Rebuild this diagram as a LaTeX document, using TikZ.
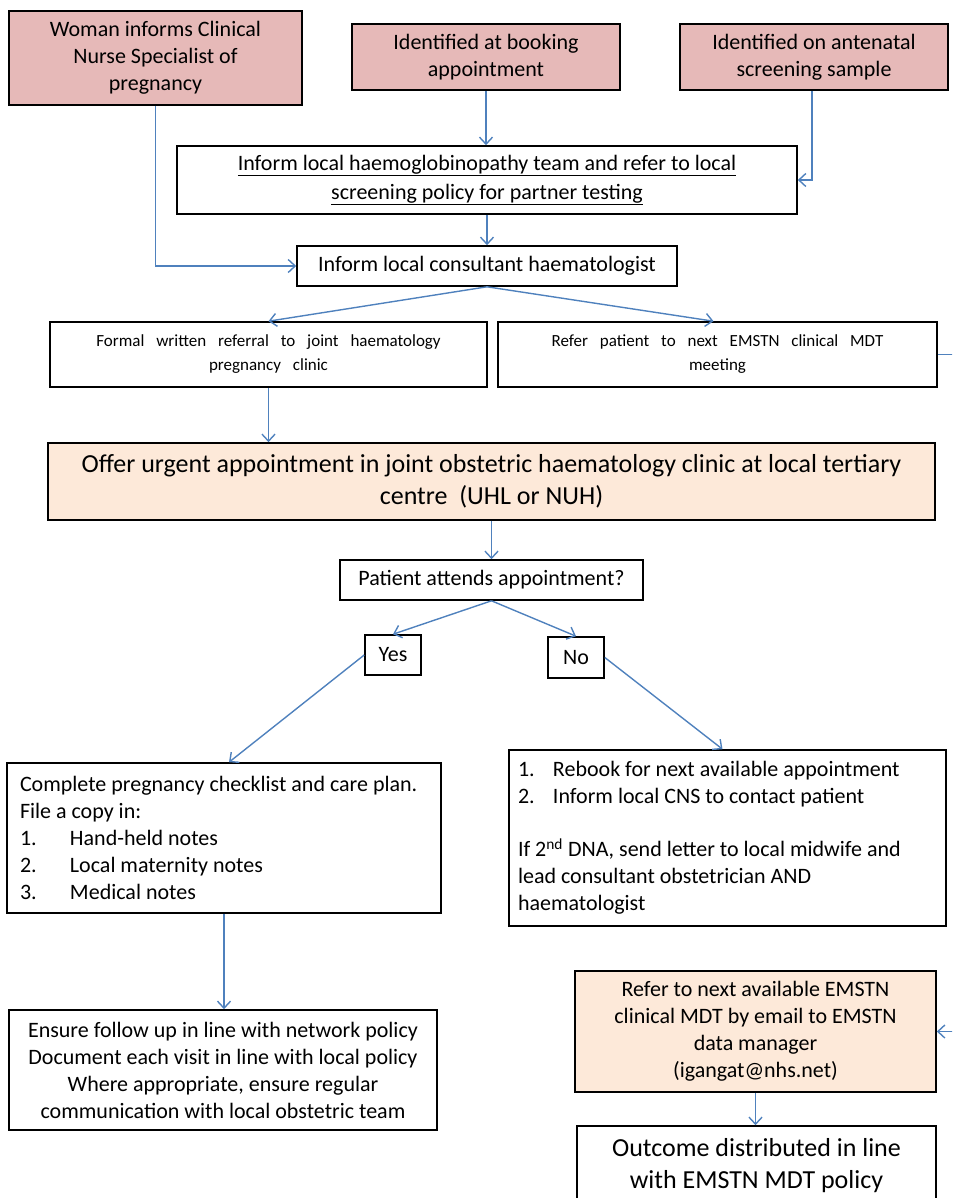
\documentclass[tikz,border=0pt]{standalone}
\usepackage{fontspec}
\setmainfont{Carlito}
\usetikzlibrary{arrows.meta}
\definecolor{pinkfill}{HTML}{E6B9B8}
\definecolor{peachfill}{HTML}{FDE9D9}
\definecolor{arrowblue}{HTML}{4F81BD}
\newcommand{\normsz}{\fontsize{22}{27}\selectfont}
\newcommand{\smallsz}{\fontsize{17}{24}\selectfont\spaceskip=0.7em plus 0.1em\relax}
\newcommand{\bigsz}{\fontsize{26}{32}\selectfont}
\newcommand{\numitem}[2]{\makebox[#1][l]{#2}}
\newcommand{\plainspaces}{\spaceskip=0pt\relax\xspaceskip=0pt\relax}
\begin{document}
\begin{tikzpicture}[x=1pt,y=-1pt,
  box/.style={draw=black, line width=1.6pt, inner sep=0pt, align=center, font=\normsz, text=black},
  conn/.style={draw=arrowblue, line width=1.4pt, -{Straight Barb[length=7pt,width=13pt]}},
]
\useasboundingbox (0,0) rectangle (952,1198);
\clip (0,0) rectangle (952,1198);

% top sources
\node[box, fill=pinkfill, minimum width=293, minimum height=94] (woman) at (155.5,58)
  {Woman informs Clinical\\Nurse Specialist of\\pregnancy};
\node[box, fill=pinkfill, minimum width=268, minimum height=66] (booking) at (486,57)
  {Identified at booking\\appointment};
\node[box, fill=pinkfill, minimum width=268, minimum height=66] (antenatal) at (814,57)
  {Identified on antenatal\\screening sample};

\node[box, minimum width=620, minimum height=68] (haemo) at (487,180)
  {\underline{Inform local haemoglobinopathy team and refer to local}\\[2pt]\underline{screening policy for partner testing}};
\node[box, minimum width=380, minimum height=40] (consultant) at (487,266)
  {Inform local consultant haematologist};

\node[box, font=\smallsz, minimum width=437, minimum height=65] (formal) at (268.5,354.5)
  {Formal written referral to joint haematology\\pregnancy clinic};
\node[box, font=\smallsz, minimum width=439, minimum height=65] (mdt) at (717.5,354.5)
  {Refer patient to next EMSTN clinical MDT\\meeting};

\node[box, fill=peachfill, font=\bigsz, minimum width=887, minimum height=77] (offer) at (491.5,481.5)
  {Offer urgent appointment in joint obstetric haematology clinic at local tertiary\\centre\ \ (UHL or NUH)};

\node[box, minimum width=303, minimum height=40] (attend) at (491.5,580)
  {Patient attends appointment?};
\node[box, minimum width=56, minimum height=40] (yes) at (393,655) {Yes};
\node[box, minimum width=56, minimum height=41] (no) at (576,657.5) {No};

\node[box, align=left, text width=408, minimum width=434, minimum height=150] (complete) at (224,838)
  {\plainspaces Complete pregnancy checklist and care plan.\\
   File a copy in:\\
   \numitem{50pt}{1.}Hand-held notes\\
   \numitem{50pt}{2.}Local maternity notes\\
   \numitem{50pt}{3.}Medical notes};
\node[box, align=left, text width=419, minimum width=437, minimum height=176] (rebook) at (727.5,838)
  {\plainspaces\numitem{35pt}{1.}Rebook for next available appointment\\
   \numitem{35pt}{2.}Inform local CNS to contact patient\\[26pt]
   If 2\textsuperscript{nd} DNA, send letter to local midwife and\\
   lead consultant obstetrician AND\\
   haematologist};

\node[box, minimum width=428, minimum height=120] (ensure) at (223,1070)
  {Ensure follow up in line with network policy\\
   Document each visit in line with local policy\\
   Where appropriate, ensure regular\\
   communication with local obstetric team};

\node[box, fill=peachfill, minimum width=361, minimum height=121] (refer) at (755.5,1031.5)
  {Refer to next available EMSTN\\clinical MDT by email to EMSTN\\data manager\\(igangat@nhs.net)};
\node[box, font=\bigsz, minimum width=359, minimum height=80] (outcome) at (756.5,1166)
  {Outcome distributed in line\\with EMSTN MDT policy};

\coordinate (offright) at (990,354.5);

% connectors
\draw[conn] (woman.south) |- (consultant.west);
\draw[conn] (booking.south) -- (booking.south |- haemo.north);
\draw[conn] ([xshift=-2pt]antenatal.south) |- (haemo.east);
\draw[conn] (haemo.south) -- (haemo.south |- consultant.north);
\draw[conn] (consultant.south) -- (formal.north);
\draw[conn] (consultant.south) -- ([xshift=-4pt]mdt.north);
\draw[conn] (formal.south) -- (formal.south |- offer.north);
\draw[conn] (mdt.east) -- (offright) |- (refer.east);
\draw[conn] (offer.south) -- (offer.south |- attend.north);
\draw[conn] (attend.south) -- (yes.north);
\draw[conn] (attend.south) -- (no.north);
\draw[conn] (yes.west) -- ([xshift=5pt]complete.north);
\draw[conn] (no.east) -- ([xshift=-5pt]rebook.north);
\draw[conn] (complete.south) -- (complete.south |- ensure.north);
\draw[conn] (refer.south) -- (refer.south |- outcome.north);
\end{tikzpicture}
\end{document}
